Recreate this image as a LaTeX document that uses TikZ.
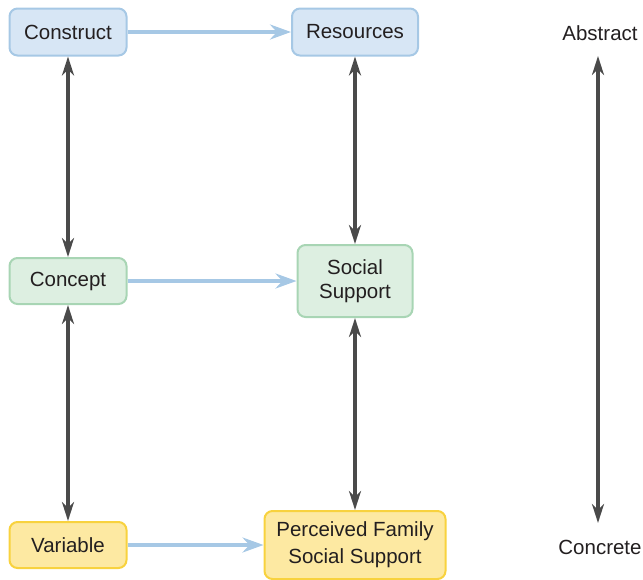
\documentclass[tikz,border=0pt]{standalone}
\usepackage{fontspec}
\setmainfont{Liberation Sans}
\usetikzlibrary{arrows.meta}
\definecolor{txt}{HTML}{231F20}
\definecolor{bluefill}{HTML}{D7E6F5}
\definecolor{blueline}{HTML}{A6C8E5}
\definecolor{greenfill}{HTML}{DDEFE1}
\definecolor{greenline}{HTML}{A8D5B4}
\definecolor{yellowfill}{HTML}{FDE9A2}
\definecolor{yellowline}{HTML}{F8D23E}
\definecolor{darkarrow}{HTML}{4A4A4A}
\tikzset{
  box/.style={rounded corners=8pt, line width=2pt, align=center, text=txt,
    font=\fontsize{20.5}{25}\selectfont, inner sep=0pt},
  bluebox/.style={box, draw=blueline, fill=bluefill},
  greenbox/.style={box, draw=greenline, fill=greenfill},
  yellowbox/.style={box, draw=yellowline, fill=yellowfill},
  flow/.style={draw=blueline, line width=3.5pt,
    -{Stealth[length=21pt,width=15pt,inset=7pt]}},
  link/.style={draw=darkarrow, line width=3.5pt,
    {Stealth[length=19pt,width=12pt,inset=6pt]}-{Stealth[length=19pt,width=12pt,inset=6pt]}},
  label/.style={text=txt, font=\fontsize{20.5}{25}\selectfont, inner sep=0pt}
}
\begin{document}
\begin{tikzpicture}[x=1pt,y=-1pt]
\useasboundingbox (0,0) rectangle (643,579);
% abstraction levels, left column
\node[bluebox, minimum width=117pt, minimum height=47pt] (construct) at (68,32) {Construct};
\node[greenbox, minimum width=117pt, minimum height=46pt] (concept) at (68,281) {Concept};
\node[yellowbox, minimum width=117pt, minimum height=46pt] (variable) at (68,545) {Variable};
% worked example, middle column
\node[bluebox, minimum width=126pt, minimum height=47pt] (resources) at (355,32) {Resources};
\node[greenbox, minimum width=115pt, minimum height=72pt] (social) at (355,281) {Social\\[-1pt]Support};
\node[yellowbox, minimum width=181pt, minimum height=68pt] (perceived) at (355,545) {Perceived Family\\[2pt]Social Support};
% scale labels
\node[label] (abstract) at (600,33) {Abstract};
\node[label] (concrete) at (600,547) {Concrete};
\coordinate (top) at (598,56);
\coordinate (bottom) at (598,523);

% horizontal links
\draw[flow] (construct.east) -- (resources.west);
\draw[flow] (concept.east) -- (social.west);
\draw[flow] (variable.east) -- (variable.east -| perceived.west);
% vertical links
\draw[link] (construct.south) -- (concept.north);
\draw[link] (concept.south) -- (variable.north);
\draw[link] (resources.south) -- (social.north);
\draw[link] (social.south) -- (perceived.north);
\draw[link] (top) -- (bottom);
\end{tikzpicture}
\end{document}
